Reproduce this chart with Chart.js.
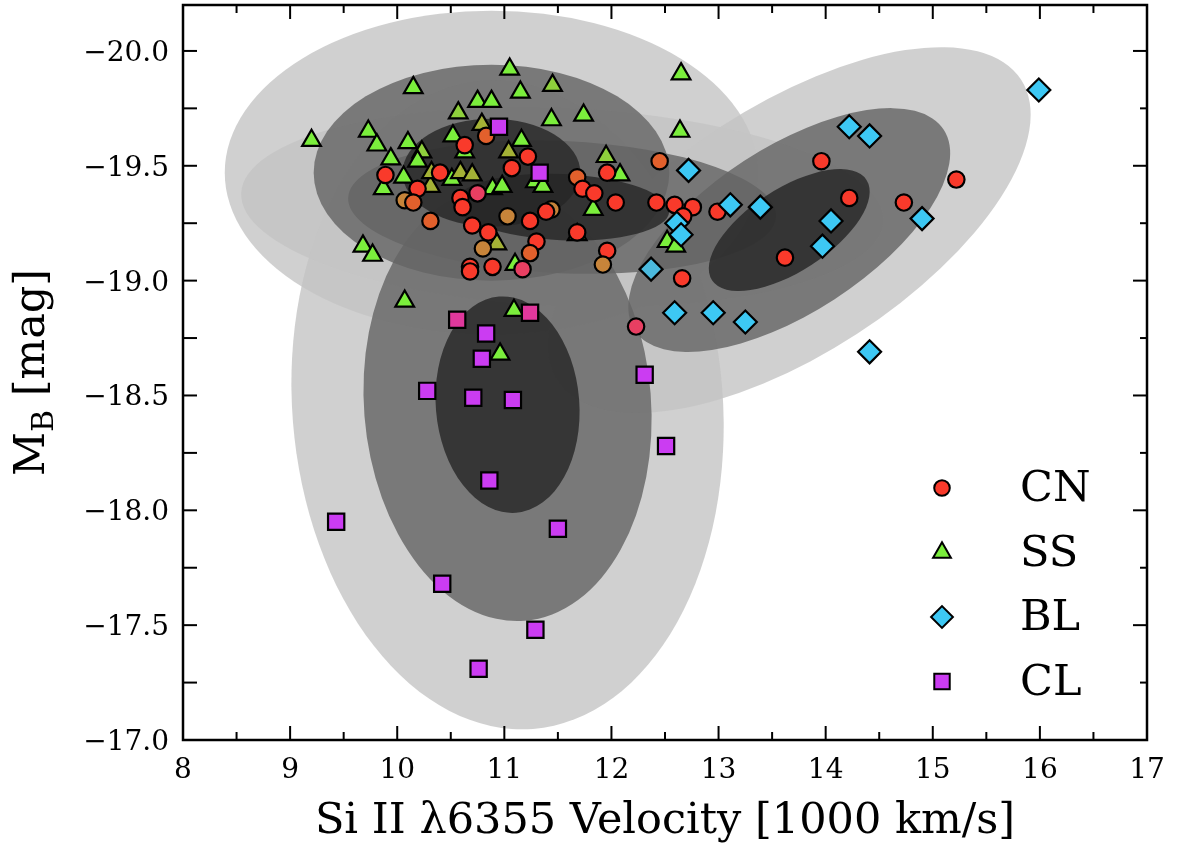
<!DOCTYPE html>
<html lang="en">
<head>
  <meta charset="UTF-8" />
  <title>M_B vs Si II velocity</title>
  <script src="https://cdn.jsdelivr.net/npm/chart.js"></script>
  <style>
    body { margin: 0; background: #fff; }
    canvas { display: block; }
  </style>
</head>
<body>
  <canvas id="chart" width="1177" height="848"></canvas>

  <script>
    // --- data ---
    // CN (core normal)
    const cnVel = [10.63, 9.89, 10.40, 10.19, 10.07, 10.15, 10.59, 10.75, 10.61, 10.31,
                   10.70, 10.83, 11.22, 11.07, 11.68, 11.96, 11.73, 11.84, 12.04, 12.42,
                   12.45, 11.03, 11.24, 11.44, 10.85, 11.68, 11.30, 11.96, 10.80, 12.59,
                   12.76, 12.99, 12.67, 11.92, 12.66, 13.62, 13.96, 15.22, 14.22, 14.73,
                   12.23, 10.68, 10.68, 10.89, 11.17, 11.24, 11.39];
    const cnMag = [-19.59, -19.46, -19.47, -19.40, -19.35, -19.34, -19.36, -19.38, -19.32, -19.26,
                   -19.24, -19.63, -19.54, -19.49, -19.45, -19.47, -19.40, -19.38, -19.34, -19.34,
                   -19.52, -19.28, -19.26, -19.31, -19.21, -19.21, -19.17, -19.13, -19.14, -19.33,
                   -19.32, -19.30, -19.28, -19.07, -19.01, -19.10, -19.52, -19.44, -19.36, -19.34,
                   -18.80, -19.06, -19.04, -19.06, -19.05, -19.12, -19.30];
    const cnTint = ['r','r','r','r','b','o','r','p','r','o',
                    'r','o','r','r','o','r','r','r','r','r',
                    'o','b','r','b','r','r','r','r','b','r',
                    'r','r','r','b','r','r','r','r','r','r',
                    'p','r','r','r','p','o','r'];

    // SS (shallow silicon)
    const ssVel = [10.15, 10.57, 10.75, 10.88, 11.05, 11.15, 11.45, 11.74, 11.44, 9.73,
                   9.20, 9.81, 10.10, 10.23, 9.94, 10.19, 10.52, 10.63, 10.06, 9.87,
                   10.31, 10.51, 10.59, 10.70, 10.79, 11.16, 11.04, 11.29, 11.36, 11.95,
                   12.08, 10.89, 10.98, 11.83, 10.93, 12.65, 12.64, 12.52, 12.60, 9.68,
                   9.77, 10.07, 11.09, 10.96, 11.10, 11.68, 10.32];
    const ssMag = [-19.84, -19.73, -19.78, -19.78, -19.92, -19.82, -19.85, -19.72, -19.70, -19.65,
                   -19.61, -19.59, -19.60, -19.56, -19.53, -19.52, -19.63, -19.56, -19.45, -19.40,
                   -19.41, -19.44, -19.47, -19.46, -19.68, -19.61, -19.56, -19.43, -19.41, -19.54,
                   -19.46, -19.40, -19.41, -19.31, -19.16, -19.90, -19.65, -19.17, -19.15, -19.15,
                   -19.11, -18.91, -18.87, -18.68, -19.07, -19.20, -19.47];
    const ssTint = ['g','l','g','g','g','g','l','g','g','g',
                    'g','g','g','l','g','g','g','g','g','g',
                    'y','g','y','y','y','g','y','g','g','l',
                    'g','g','g','g','y','g','g','g','g','g',
                    'g','g','g','g','g','g','y'];

    // BL (broad line)
    const blVel = [15.99, 14.22, 14.41, 12.72, 13.11, 13.39, 14.05, 14.90, 13.97, 12.61,
                   12.65, 12.37, 12.59, 12.95, 13.25, 14.41];
    const blMag = [-19.83, -19.67, -19.63, -19.48, -19.33, -19.32, -19.26, -19.27, -19.15, -19.25,
                   -19.20, -19.05, -18.86, -18.86, -18.82, -18.69];
    const blTint = ['c','c','c','c','c','c','c','c','c','c',
                    'c','m','c','c','c','c'];

    // CL (cool)
    const clVel = [10.95, 11.33, 10.56, 11.24, 10.83, 10.79, 10.28, 10.71, 11.08, 12.31,
                   10.86, 12.51, 9.43, 11.50, 10.42, 11.29, 10.76];
    const clMag = [-19.67, -19.47, -18.83, -18.86, -18.77, -18.66, -18.52, -18.49, -18.48, -18.59,
                   -18.13, -18.28, -17.95, -17.92, -17.68, -17.48, -17.31];
    const clTint = ['v','v','k','k','v','v','v','v','v','v',
                    'v','v','v','v','v','v','v'];

    // 1-sigma ellipses per class (semi axes in axis units, tilt in degrees)
    const ellClass = ['CN', 'SS', 'BL', 'CL'];
    const ellVel   = [11.54, 10.88, 13.66, 11.03];
    const ellMag   = [-19.32, -19.47, -19.22, -18.46];
    const ellSemiV = [1.00, 0.83, 0.86, 0.67];
    const ellSemiM = [0.144, 0.235, 0.180, 0.472];
    const ellTilt  = [2.5, 0, -33, -4.5];
    const sigmaLevels = [3, 2, 1];

    const xTicks = [8, 9, 10, 11, 12, 13, 14, 15, 16, 17];
    const yTicks = [-20.0, -19.5, -19.0, -18.5, -18.0, -17.5, -17.0];
    const legendOrder = ['CN', 'SS', 'BL', 'CL'];

    const tintColor = {
      r: '#f93a2b', o: '#e2602c', b: '#c7843a', p: '#e83f62',
      g: '#7bee3c', l: '#8fd03c', y: '#a4b236',
      c: '#3dc8f4', m: '#4bbade',
      v: '#cb3cf2', k: '#e0389c'
    };

    const levelFill = {
      3: 'rgba(196,196,196,0.8)',
      2: 'rgba(100,100,100,0.8)',
      1: 'rgba(37,37,37,0.8)'
    };

    const SERIF = "'DejaVu Serif', 'Liberation Serif', serif";

    function pts(xs, ys) { return xs.map((v, i) => ({ x: v, y: ys[i] })); }

    // ellipses behind the markers
    const ellipsePlugin = {
      id: 'ellipses',
      beforeDatasetsDraw(chart) {
        const { ctx, chartArea, scales: { x, y } } = chart;
        const pxV = Math.abs(x.getPixelForValue(1) - x.getPixelForValue(0));
        const pxM = Math.abs(y.getPixelForValue(-19) - y.getPixelForValue(-20));
        ctx.save();
        ctx.beginPath();
        ctx.rect(chartArea.left, chartArea.top, chartArea.right - chartArea.left, chartArea.bottom - chartArea.top);
        ctx.clip();
        sigmaLevels.forEach(n => {
          ctx.fillStyle = levelFill[n];
          ellClass.forEach((c, i) => {
            ctx.beginPath();
            ctx.ellipse(x.getPixelForValue(ellVel[i]), y.getPixelForValue(ellMag[i]),
              ellSemiV[i] * n * pxV, ellSemiM[i] * n * pxM,
              ellTilt[i] * Math.PI / 180, 0, Math.PI * 2);
            ctx.fill();
          });
        });
        ctx.restore();
      }
    };

    // frame, inward ticks and tick labels (matplotlib look)
    const framePlugin = {
      id: 'frame',
      afterDraw(chart) {
        const { ctx, chartArea: a, scales: { x, y } } = chart;
        ctx.save();
        ctx.strokeStyle = '#000';
        ctx.lineWidth = 2;
        const tick = (x1, y1, x2, y2) => { ctx.beginPath(); ctx.moveTo(x1, y1); ctx.lineTo(x2, y2); ctx.stroke(); };
        for (let v = 8; v <= 17.001; v += 0.5) {
          const px = x.getPixelForValue(v);
          const len = Math.abs(v - Math.round(v)) < 0.01 ? 14 : 8;
          tick(px, a.bottom, px, a.bottom - len);
          tick(px, a.top, px, a.top + len);
        }
        for (let v = -20.0; v <= -17.0; v += 0.25) {
          const py = y.getPixelForValue(v);
          const major = Math.abs(v * 2 - Math.round(v * 2)) < 0.01;
          tick(a.left, py, a.left + 14, py);
          tick(a.right, py, a.right - (major ? 14 : 7), py);
        }
        ctx.lineWidth = 2.5;
        ctx.strokeRect(a.left, a.top, a.right - a.left, a.bottom - a.top);

        // tick labels
        ctx.fillStyle = '#000';
        ctx.font = '28px ' + SERIF;
        ctx.textBaseline = 'alphabetic';
        ctx.textAlign = 'center';
        xTicks.forEach(v => ctx.fillText(String(v), x.getPixelForValue(v), a.bottom + 38));
        ctx.textAlign = 'right';
        yTicks.forEach(v => ctx.fillText('\u2212' + Math.abs(v).toFixed(1), a.left - 14, y.getPixelForValue(v) + 10));

        // y axis title with subscript
        ctx.textAlign = 'left';
        ctx.translate(29, (a.top + a.bottom) / 2);
        ctx.rotate(-Math.PI / 2);
        ctx.font = '43px ' + SERIF;
        const wM = ctx.measureText('M').width;
        const wRest = ctx.measureText(' [mag]').width;
        ctx.font = '30px ' + SERIF;
        const wB = ctx.measureText('B').width;
        let cx = -(wM + wB + wRest) / 2;
        ctx.font = '43px ' + SERIF;
        ctx.fillText('M', cx, 15);
        cx += wM;
        ctx.font = '30px ' + SERIF;
        ctx.fillText('B', cx, 24);
        cx += wB;
        ctx.font = '43px ' + SERIF;
        ctx.fillText(' [mag]', cx, 15);
        ctx.restore();
      }
    };

    // legend in the lower right corner of the plot
    const legendPlugin = {
      id: 'cornerLegend',
      afterDraw(chart) {
        const { ctx, chartArea: a } = chart;
        ctx.save();
        legendOrder.forEach((name, row) => {
          const ds = chart.data.datasets.find(d => d.label === name);
          const yy = a.top + 483 + row * 64.5;
          const xx = a.left + 759;
          ctx.fillStyle = ds.legendColor;
          ctx.strokeStyle = '#000';
          ctx.lineWidth = 2;
          Chart.helpers.drawPoint(ctx, {
            pointStyle: ds.pointStyle, radius: ds.pointRadius * 0.95, rotation: 0, borderWidth: 2.2
          }, xx, yy);
          ctx.fillStyle = '#000';
          ctx.font = '43px ' + SERIF;
          ctx.textBaseline = 'middle';
          ctx.fillText(ds.label, a.left + 837, yy + 2);
        });
        ctx.restore();
      }
    };

    new Chart(document.getElementById('chart'), {
      type: 'scatter',
      data: {
        datasets: [
          { label: 'CL', data: pts(clVel, clMag), pointStyle: 'rect', pointRadius: 11.5,
            pointBackgroundColor: clTint.map(t => tintColor[t]), legendColor: tintColor.v },
          { label: 'BL', data: pts(blVel, blMag), pointStyle: 'rectRot', pointRadius: 11.5,
            pointBackgroundColor: blTint.map(t => tintColor[t]), legendColor: tintColor.c },
          { label: 'CN', data: pts(cnVel, cnMag), pointStyle: 'circle', pointRadius: 8.2,
            pointBackgroundColor: cnTint.map(t => tintColor[t]), legendColor: tintColor.r },
          { label: 'SS', data: pts(ssVel, ssMag), pointStyle: 'triangle', pointRadius: 10.8,
            pointBackgroundColor: ssTint.map(t => tintColor[t]), legendColor: tintColor.g }
        ].map(d => Object.assign(d, { pointBorderColor: '#000', pointBorderWidth: 2.2, pointHoverRadius: d.pointRadius }))
      },
      options: {
        responsive: false,
        animation: false,
        layout: { autoPadding: false, padding: { top: 5, right: 30, left: 0, bottom: 0 } },
        plugins: { legend: { display: false }, tooltip: { enabled: false } },
        scales: {
          x: {
            type: 'linear', min: 8, max: 17,
            grid: { display: false }, border: { display: false },
            ticks: { display: false },
            afterFit: s => { s.height = 108; s.paddingLeft = 0; s.paddingRight = 0; },
            title: { display: true, text: 'Si II λ6355 Velocity [1000 km/s]', color: '#000',
                     font: { family: SERIF, size: 43 }, padding: { top: 0, bottom: 0 } }
          },
          y: {
            type: 'linear', reverse: true, min: -20.2, max: -17.0,
            grid: { display: false }, border: { display: false },
            ticks: { display: false },
            afterFit: s => { s.width = 183; s.paddingTop = 0; s.paddingBottom = 0; }
          }
        }
      },
      plugins: [ellipsePlugin, framePlugin, legendPlugin]
    });
  </script>
</body>
</html>
